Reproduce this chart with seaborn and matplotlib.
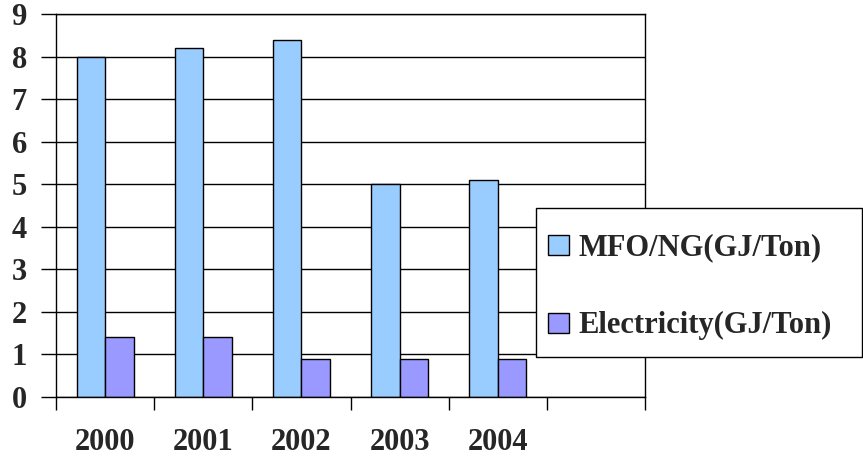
import matplotlib
matplotlib.use("Agg")
import matplotlib.pyplot as plt
import seaborn as sns
import pandas as pd
import numpy as np
from matplotlib.patches import Patch, Rectangle

years = ["2000", "2001", "2002", "2003", "2004"]
mfo_ng = [8.0, 8.2, 8.4, 5.0, 5.1]
electricity = [1.4, 1.4, 0.9, 0.9, 0.9]
series_names = ["MFO/NG(GJ/Ton)", "Electricity(GJ/Ton)"]
colors = ["#99CCFF", "#9999FF"]
y_ticks = list(range(0, 10))

df = pd.DataFrame({
    "year": years * 2,
    "value": mfo_ng + electricity,
    "series": [series_names[0]] * len(years) + [series_names[1]] * len(years),
})
order = years + [""]

sns.set_theme(style="white")
plt.rcParams["font.family"] = ["Liberation Serif", "DejaVu Serif"]
plt.rcParams["font.weight"] = "bold"

FS = 22

fig = plt.figure(figsize=(8.63, 4.57), dpi=100)
ax = fig.add_axes([56 / 863, 1 - 397 / 457, (645 - 56) / 863, (397 - 14) / 457])

sns.barplot(data=df, x="year", y="value", hue="series", order=order,
            hue_order=series_names, palette=colors, width=0.58,
            edgecolor="black", linewidth=1.0, saturation=1, ax=ax, legend=False)

ax.set_ylim(0, 9)
ax.set_xlim(-0.5, len(order) - 0.5)
ax.set_yticks(y_ticks)
ax.set_yticklabels([str(t) for t in y_ticks], fontsize=FS, fontweight="bold")
ax.yaxis.grid(True, color="black", linewidth=1.0)
ax.set_axisbelow(True)
ax.tick_params(axis="y", direction="out", length=11, width=1, color="black", pad=10, left=True)

ax.set_xticks(np.arange(-0.5, len(order), 1.0))
ax.set_xticklabels([])
ax.set_xticks(np.arange(len(order)), minor=True)
ax.set_xticklabels(order, minor=True, fontsize=FS, fontweight="bold")
ax.tick_params(axis="x", which="major", direction="out", length=9, width=1, color="black", bottom=True)
ax.tick_params(axis="x", which="minor", length=0, pad=22)

ax.set_xlabel("")
ax.set_ylabel("")
for s in ["left", "bottom", "right", "top"]:
    ax.spines[s].set_visible(True)
    ax.spines[s].set_color("black")
    ax.spines[s].set_linewidth(1.0)

# legend box
box = Rectangle((536 / 863, 1 - 357 / 457), 326 / 863, 149 / 457,
                transform=fig.transFigure, facecolor="white", edgecolor="black",
                linewidth=1.0, zorder=3)
fig.patches.append(box)

handles = [Patch(facecolor=c, edgecolor="black", linewidth=1.0) for c in colors]
leg = fig.legend(handles, series_names, loc="center left",
                 bbox_to_anchor=(548 / 863, 1 - 287 / 457),
                 prop={"family": "Liberation Serif", "weight": "bold", "size": FS},
                 frameon=False, handlelength=0.7, handleheight=0.65,
                 handletextpad=0.3, labelspacing=1.6, borderpad=0, borderaxespad=0)
leg.set_zorder(4)

fig.savefig("out.png", dpi=100)
